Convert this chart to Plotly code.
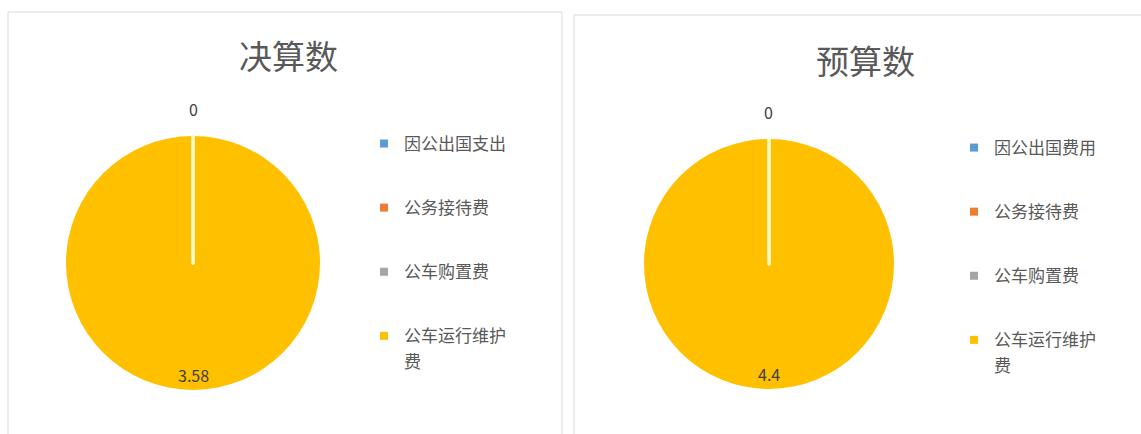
import plotly.graph_objects as go

# 三公经费构成
categories_actual = ["因公出国支出", "公务接待费", "公车购置费", "公车运行维护费"]
values_actual = [0, 0, 0, 3.58]

categories_budget = ["因公出国费用", "公务接待费", "公车购置费", "公车运行维护费"]
values_budget = [0, 0, 0, 4.4]

titles = ["决算数", "预算数"]
colors = ["#5B9BD5", "#ED7D31", "#A5A5A5", "#FFC000"]

W, H = 1141, 434
FONT = "Noto Sans CJK SC"
TEXT_COLOR = "#595959"
WRAP = 6  # characters per legend line


def px_x(v):
    return v / W


def px_y(v):
    return 1 - v / H


fig = go.Figure()

panels = [
    dict(cats=categories_actual, vals=values_actual, title=titles[0],
         dom_x=(66, 320), dom_y=(136, 390), title_x=288, title_y=55,
         legend="legend", legend_x=364, legend_y=126,
         box=(8, 12, 562, 440)),
    dict(cats=categories_budget, vals=values_budget, title=titles[1],
         dom_x=(644, 894), dom_y=(139, 389), title_x=865, title_y=60,
         legend="legend2", legend_x=954, legend_y=130,
         box=(574, 15, 1150, 440)),
]

annotations = []
shapes = []
for p in panels:
    vals = p["vals"]
    fmt = [f"{v:g}" for v in vals]
    fig.add_trace(go.Pie(
        labels=p["cats"], values=vals,
        textinfo="none", sort=True, direction="clockwise",
        marker=dict(colors=colors,
                    line=dict(color="#FFF9C4", width=[3, 3, 3, 0])),
        domain=dict(x=[px_x(p["dom_x"][0]), px_x(p["dom_x"][1])],
                    y=[px_y(p["dom_y"][1]), px_y(p["dom_y"][0])]),
        showlegend=False, hoverinfo="label+value",
    ))
    # legend entries, one group each so the rows can be spaced apart;
    # long names continue on an extra row inside the same group
    for i, (c, col) in enumerate(zip(p["cats"], colors)):
        group = f"{p['legend']}_{i}"
        chunks = [c[k:k + WRAP] for k in range(0, len(c), WRAP)]
        for j, chunk in enumerate(chunks):
            fig.add_trace(go.Scatter(
                x=[None], y=[None], mode="markers", name=chunk,
                marker=dict(symbol="square", size=8,
                            color=col if j == 0 else "rgba(0,0,0,0)"),
                legendgroup=group, legend=p["legend"],
                showlegend=True, hoverinfo="skip",
            ))
    cx = (p["dom_x"][0] + p["dom_x"][1]) / 2
    # values of the empty slices sit above the top of the pie
    zero = next(k for k, v in enumerate(vals) if v == 0)
    annotations.append(dict(
        x=px_x(cx), y=px_y(p["dom_y"][0] - 27), xref="paper", yref="paper",
        xanchor="center", yanchor="middle",
        text=fmt[zero], showarrow=False,
        font=dict(family=FONT, size=16, color="#404040"),
    ))
    # value of the largest slice, written near the lower rim
    big = max(range(len(vals)), key=lambda k: vals[k])
    annotations.append(dict(
        x=px_x(cx), y=px_y(p["dom_y"][1] - 15), xref="paper", yref="paper",
        xanchor="center", yanchor="middle",
        text=fmt[big], showarrow=False,
        font=dict(family=FONT, size=16, color="#404040"),
    ))
    annotations.append(dict(
        x=px_x(p["title_x"]), y=px_y(p["title_y"]), xref="paper", yref="paper",
        xanchor="center", yanchor="middle",
        text=p["title"], showarrow=False,
        font=dict(family=FONT, size=33, color=TEXT_COLOR),
    ))
    x0, y0, x1, y1 = p["box"]
    shapes.append(dict(type="rect", xref="paper", yref="paper",
                       x0=px_x(x0), x1=px_x(x1), y0=px_y(y1), y1=px_y(y0),
                       line=dict(color="#D9D9D9", width=1), fillcolor="rgba(0,0,0,0)"))

legend_common = dict(
    font=dict(family=FONT, size=17, color=TEXT_COLOR),
    tracegroupgap=39, bgcolor="rgba(0,0,0,0)", borderwidth=0,
    xanchor="left", yanchor="top", valign="middle", itemwidth=30,
)

fig.update_layout(
    width=W, height=H,
    margin=dict(l=0, r=0, t=0, b=0),
    paper_bgcolor="white", plot_bgcolor="white",
    xaxis=dict(visible=False), yaxis=dict(visible=False),
    annotations=annotations, shapes=shapes,
    legend=dict(x=px_x(panels[0]["legend_x"]), y=px_y(panels[0]["legend_y"]), **legend_common),
    legend2=dict(x=px_x(panels[1]["legend_x"]), y=px_y(panels[1]["legend_y"]), **legend_common),
)

fig.write_html("out.html")
